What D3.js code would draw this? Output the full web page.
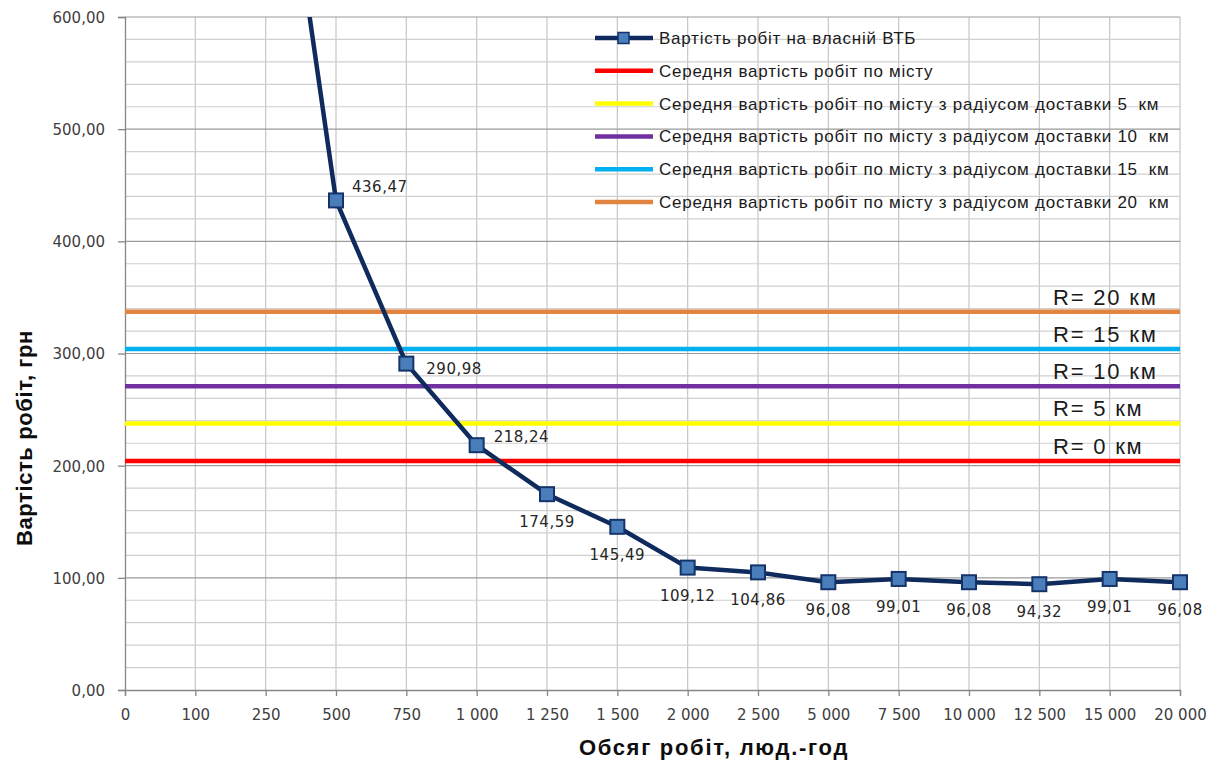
<!DOCTYPE html>
<html><head><meta charset="utf-8">
<script src="https://cdn.jsdelivr.net/npm/d3@7"></script>
<style>body{margin:0;background:#fff} text{white-space:pre}</style>
</head><body>
<svg id="c" width="1213" height="764"></svg>
<script>
// ---- data ----
const categories = ["0","100","250","500","750","1 000","1 250","1 500","2 000","2 500","5 000","7 500","10 000","12 500","15 000","20 000"];
const costOwn = [null, 2182.35, 872.94, 436.47, 290.98, 218.24, 174.59, 145.49, 109.12, 104.86, 96.08, 99.01, 96.08, 94.32, 99.01, 96.08];
const labelPlacement = [null, null, null, "aboveRight", "rightLow", "rightHigh", "below", "below", "below", "below", "below", "below", "below", "below", "below", "below"];
const ownName = "Вартість робіт на власній ВТБ";
const avgNames = [
  "Середня вартість робіт по місту",
  "Середня вартість робіт по місту з радіусом доставки 5  км",
  "Середня вартість робіт по місту з радіусом доставки 10  км",
  "Середня вартість робіт по місту з радіусом доставки 15  км",
  "Середня вартість робіт по місту з радіусом доставки 20  км"
];
const avgValues = [204.1, 237.7, 270.8, 304.0, 337.2];
const avgColors = ["#ff0000", "#ffff00", "#7030a0", "#00b0f0", "#e0843f"];
const radiusLabels = ["R= 0 км", "R= 5 км", "R= 10 км", "R= 15 км", "R= 20 км"];
const yTicks = [0, 100, 200, 300, 400, 500, 600];
const yMinorTicks = d3.range(0, 601, 20).filter(v => v % 100 !== 0);
const yTitle = "Вартість робіт, грн";
const xTitle = "Обсяг робіт, люд.-год";

// ---- layout ----
const svg = d3.select("#c");
const L = 125, R = 1180, T = 17, B = 690;
const x = d3.scalePoint().domain(categories).range([L, R]);
const y = d3.scaleLinear().domain([0, 600]).range([B, T]);
const fmt = v => d3.format(".2f")(v).replace(".", ",");

svg.append("defs").append("clipPath").attr("id", "clip")
  .append("rect").attr("x", L - 10).attr("y", T).attr("width", R - L + 20).attr("height", B - T);

// gridlines
const grid = svg.append("g");
grid.selectAll(".vg").data(categories.slice(1)).join("line")
  .attr("x1", d => x(d)).attr("x2", d => x(d)).attr("y1", T).attr("y2", B)
  .attr("stroke", "#c6c6c6").attr("stroke-width", 1.2);
grid.selectAll(".mg").data(yMinorTicks).join("line")
  .attr("x1", L).attr("x2", R).attr("y1", d => y(d)).attr("y2", d => y(d))
  .attr("stroke", "#cfcfcf").attr("stroke-width", 1.2);
grid.selectAll(".Mg").data(yTicks.slice(1)).join("line")
  .attr("x1", L).attr("x2", R).attr("y1", d => y(d)).attr("y2", d => y(d))
  .attr("stroke", "#9a9a9a").attr("stroke-width", 1.2);

// axes
const yAxis = svg.append("g").attr("transform", `translate(${L},0)`)
  .call(d3.axisLeft(y).tickValues(yTicks).tickSize(7).tickPadding(13).tickFormat(fmt));
const xAxis = svg.append("g").attr("transform", `translate(0,${B})`)
  .call(d3.axisBottom(x).tickSize(6).tickPadding(13));
[yAxis, xAxis].forEach(a => {
  a.select(".domain").attr("stroke", "#868686").attr("stroke-width", 1.3);
  a.selectAll(".tick line").attr("stroke", "#868686").attr("stroke-width", 1.3);
  a.selectAll("text").attr("font-family", "DejaVu Sans, Verdana, sans-serif")
    .attr("font-size", 15).attr("fill", "#404040");
});
yAxis.selectAll("text").attr("dy", "0.36em");

// reference lines
const plot = svg.append("g").attr("clip-path", "url(#clip)");
avgValues.forEach((v, i) => {
  plot.append("path")
    .attr("d", d3.line().x(d => x(d)).y(() => y(v))(categories))
    .attr("stroke", avgColors[i]).attr("stroke-width", 4.5).attr("fill", "none");
});

// radius labels
svg.selectAll(".rl").data(avgValues).join("text")
  .attr("x", 1053).attr("y", d => y(d) - 7)
  .attr("font-family", "Liberation Sans, Arial, sans-serif").attr("font-size", 22)
  .attr("letter-spacing", 1.8)
  .attr("fill", "#1a1a1a").text((d, i) => radiusLabels[i]);

// main series
const pts = categories.map((c, i) => ({c, v: costOwn[i], p: labelPlacement[i]}));
plot.append("path")
  .attr("d", d3.line().defined(d => d.v != null).x(d => x(d.c)).y(d => y(d.v))(pts))
  .attr("stroke", "#0f2a5c").attr("stroke-width", 4.5).attr("fill", "none")
  .attr("stroke-linejoin", "round");
const vis = pts.filter(d => d.v != null && d.v <= 600);
plot.selectAll(".mk").data(vis).join("rect")
  .attr("x", d => x(d.c) - 7).attr("y", d => y(d.v) - 7).attr("width", 14).attr("height", 14)
  .attr("fill", "#4a7ebb").attr("stroke", "#15336a").attr("stroke-width", 2);

const offs = {aboveRight: [16, -8, "start"], rightLow: [20, 10, "start"], rightHigh: [17, -3, "start"], below: [0, 33, "middle"]};
svg.selectAll(".dl").data(vis).join("text")
  .attr("x", d => x(d.c) + offs[d.p][0]).attr("y", d => y(d.v) + offs[d.p][1])
  .attr("text-anchor", d => offs[d.p][2])
  .attr("font-family", "DejaVu Sans, Verdana, sans-serif").attr("font-size", 15)
  .attr("letter-spacing", 0.5)
  .attr("fill", "#262626").text(d => fmt(d.v));

// legend
const lg = svg.append("g");
const legItems = [{name: ownName, color: "#0f2a5c", marker: true}]
  .concat(avgNames.map((n, i) => ({name: n, color: avgColors[i], marker: false})));
legItems.forEach((it, i) => {
  const cy = 38 + i * 32.8;
  lg.append("line").attr("x1", 595).attr("x2", 653).attr("y1", cy).attr("y2", cy)
    .attr("stroke", it.color).attr("stroke-width", 4.5);
  if (it.marker) lg.append("rect").attr("x", 618).attr("y", cy - 5.5).attr("width", 11).attr("height", 11)
    .attr("fill", "#4a7ebb").attr("stroke", "#15336a").attr("stroke-width", 1.5);
  lg.append("text").attr("x", 659).attr("y", cy + 6)
    .attr("font-family", "Liberation Sans, Arial, sans-serif").attr("font-size", 17)
    .attr("letter-spacing", 0.75)
    .attr("fill", "#1a1a1a").text(it.name);
});

// titles
svg.append("text").attr("transform", `translate(32,438) rotate(-90)`)
  .attr("text-anchor", "middle").attr("font-family", "Liberation Sans, Arial, sans-serif")
  .attr("font-weight", "bold").attr("font-size", 22).attr("letter-spacing", 0.6)
  .attr("fill", "#0d0d0d").text(yTitle);
svg.append("text").attr("x", 714).attr("y", 755).attr("text-anchor", "middle")
  .attr("font-family", "Liberation Sans, Arial, sans-serif")
  .attr("font-weight", "bold").attr("font-size", 22).attr("letter-spacing", 1.7)
  .attr("fill", "#0d0d0d").text(xTitle);
</script>
</body></html>
